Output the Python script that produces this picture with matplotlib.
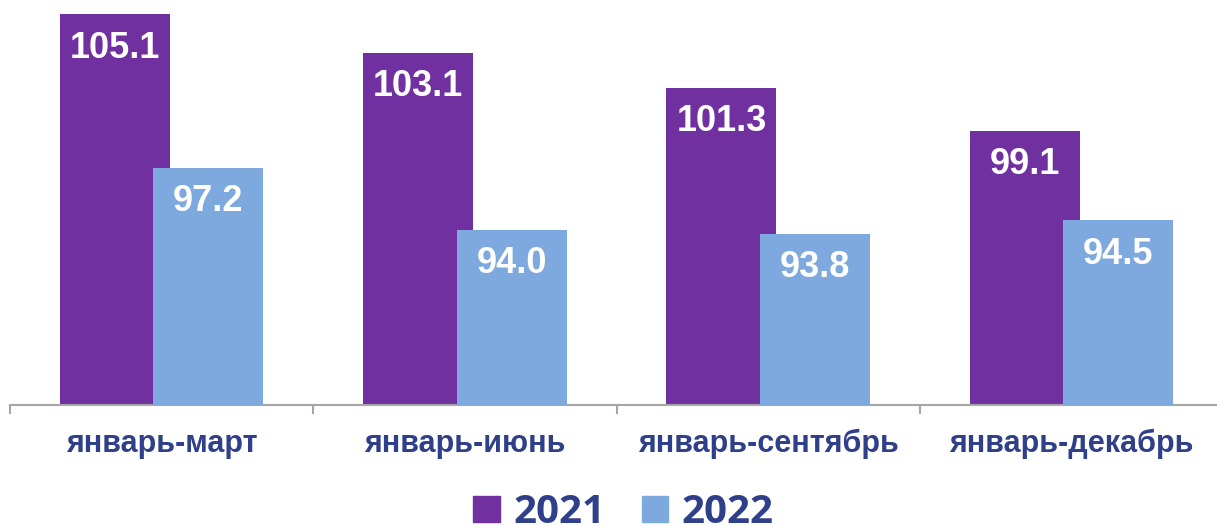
import matplotlib.pyplot as plt
from matplotlib.patches import Patch
import numpy as np

categories = ["январь-март", "январь-июнь", "январь-сентябрь", "январь-декабрь"]
years = ["2021", "2022"]
values_2021 = [105.1, 103.1, 101.3, 99.1]
values_2022 = [97.2, 94.0, 93.8, 94.5]

PURPLE = "#7030A0"
LIGHT = "#7EA9DE"
NAVY = "#2F3F89"

W, H = 1217, 526
fig = plt.figure(figsize=(W / 100, H / 100), dpi=100)

ymin, ymax = 85, 106
px_per_unit = 19.45
ax_left, ax_right = 10, 1223
ax_bottom = H - 405
ax_h = (ymax - ymin) * px_per_unit
ax = fig.add_axes([ax_left / W, ax_bottom / H, (ax_right - ax_left) / W, ax_h / H])

x = np.arange(len(categories))
offset = 0.154
width = 0.363

bars1 = ax.bar(x - offset, values_2021, width, color=PURPLE, zorder=2)
bars2 = ax.bar(x + offset, values_2022, width, color=LIGHT, zorder=3)

for bars, vals in [(bars1, values_2021), (bars2, values_2022)]:
    for b, v in zip(bars, vals):
        ax.annotate(f"{v:.1f}", (b.get_x() + b.get_width() / 2, v),
                    xytext=(0, -24.5), textcoords="offset points",
                    ha="center", va="center", color="white",
                    fontsize=26, fontweight="bold", family="Liberation Sans",
                    zorder=4)

ax.set_xlim(-0.5, 3.5)
ax.set_ylim(ymin, ymax)

for s in ["top", "right", "left"]:
    ax.spines[s].set_visible(False)
ax.spines["bottom"].set_color("#A6A6A6")
ax.spines["bottom"].set_linewidth(1.5)
ax.set_yticks([])

ax.set_xticks(x)
ax.set_xticklabels(categories, fontsize=22, fontweight="bold",
                   family="Liberation Sans", color=NAVY)
ax.tick_params(axis="x", which="major", length=0, pad=17)
ax.set_xticks(np.arange(-0.5, 4.0, 1.0), minor=True)
ax.tick_params(axis="x", which="minor", length=6.5, width=1.5,
               color="#A6A6A6", direction="out")

handles = [Patch(color=PURPLE, label=years[0]), Patch(color=LIGHT, label=years[1])]
leg = fig.legend(handles=handles, loc="upper center", ncol=2,
                 bbox_to_anchor=(623.5 / W, 1 - 473 / H),
                 frameon=False, borderpad=0, handlelength=0.65,
                 handleheight=0.65, handletextpad=0.34, columnspacing=0.9,
                 prop={"family": "Open Sans", "weight": "bold", "size": 29})
for t in leg.get_texts():
    t.set_color(NAVY)

fig.savefig("out.png", dpi=100)
